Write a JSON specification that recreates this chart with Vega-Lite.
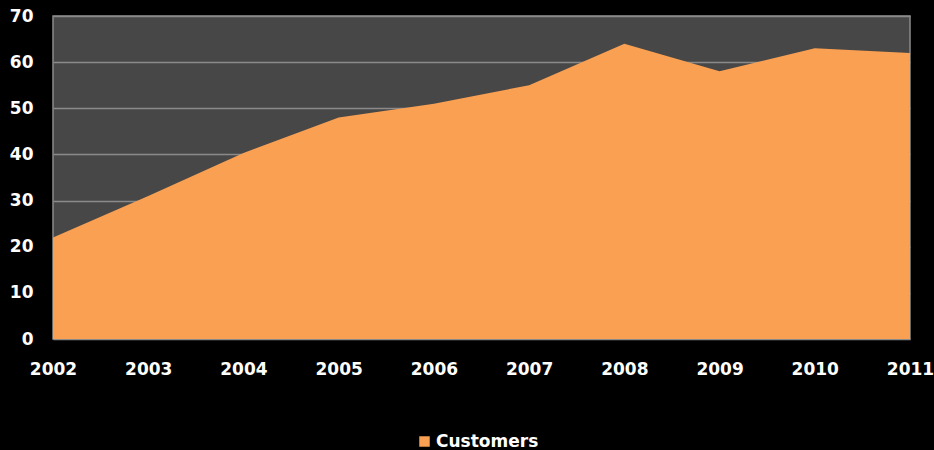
{
  "$schema": "https://vega.github.io/schema/vega-lite/v6.json",
  "width": 857,
  "height": 323,
  "autosize": {"type": "none"},
  "padding": {"left": 53, "top": 16, "right": 24, "bottom": 111},
  "background": "#000000",
  "config": {
    "view": {"fill": "#474747", "stroke": "#8a8a8a", "strokeWidth": 1.5},
    "font": "DejaVu Sans",
    "axis": {"labelFont": "DejaVu Sans", "labelFontWeight": "bold", "labelColor": "#ffffff", "labelFontSize": 17, "domain": false, "ticks": false, "title": null},
    "legend": {"labelFont": "DejaVu Sans", "labelFontWeight": "bold", "labelColor": "#ffffff", "labelFontSize": 17}
  },
  "data": {
    "values": [
      {"year": 2002, "customers": 22, "series": "Customers"},
      {"year": 2003, "customers": 31, "series": "Customers"},
      {"year": 2004, "customers": 40.3, "series": "Customers"},
      {"year": 2005, "customers": 48, "series": "Customers"},
      {"year": 2006, "customers": 51, "series": "Customers"},
      {"year": 2007, "customers": 55, "series": "Customers"},
      {"year": 2008, "customers": 64, "series": "Customers"},
      {"year": 2009, "customers": 58, "series": "Customers"},
      {"year": 2010, "customers": 63, "series": "Customers"},
      {"year": 2011, "customers": 62, "series": "Customers"}
    ]
  },
  "mark": {"type": "area", "opacity": 1},
  "encoding": {
    "x": {
      "field": "year",
      "type": "quantitative",
      "scale": {"domain": [2002, 2011], "nice": false, "zero": false},
      "axis": {"values": [2002, 2003, 2004, 2005, 2006, 2007, 2008, 2009, 2010, 2011], "format": "d", "grid": false, "labelPadding": 22, "labelFlush": false, "labelOverlap": false}
    },
    "y": {
      "field": "customers",
      "type": "quantitative",
      "scale": {"domain": [0, 70], "nice": false},
      "axis": {"values": [0, 10, 20, 30, 40, 50, 60, 70], "grid": true, "gridColor": "#8a8a8a", "gridWidth": 1.5, "labelPadding": 20}
    },
    "color": {
      "field": "series",
      "type": "nominal",
      "scale": {"range": ["#F9A052"]},
      "legend": {"title": null, "orient": "none", "legendX": 363, "legendY": 417, "symbolType": "square", "symbolSize": 110, "symbolStrokeWidth": 0, "labelOffset": 3}
    }
  }
}
